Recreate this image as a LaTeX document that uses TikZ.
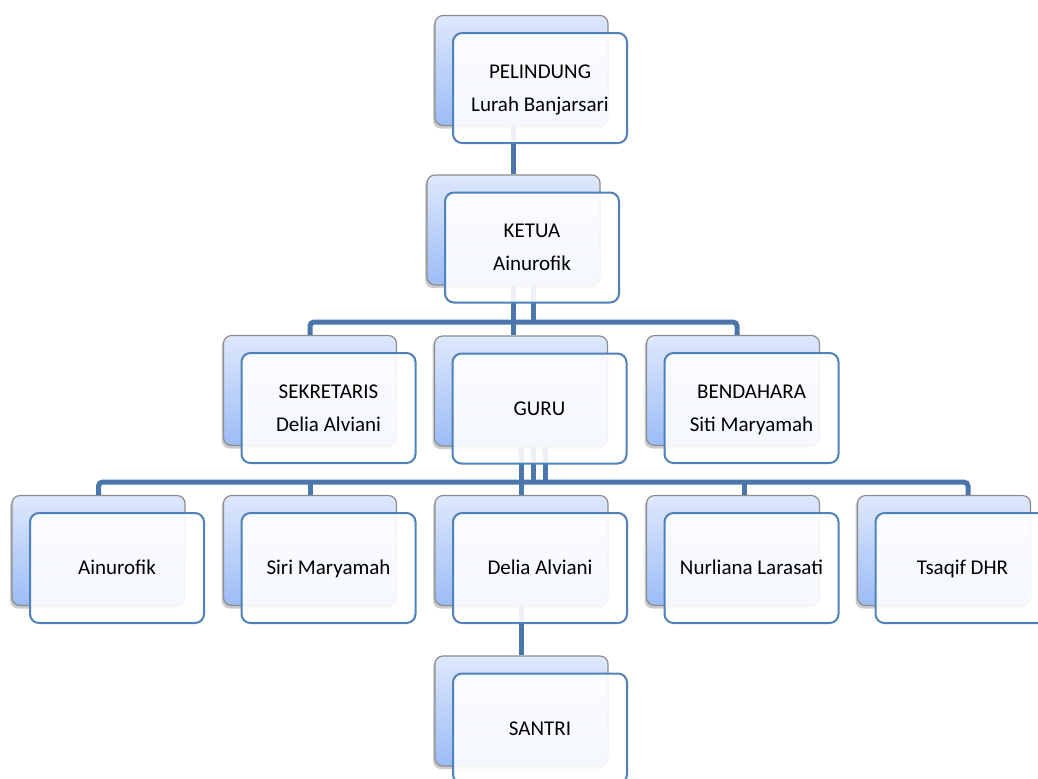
\documentclass[tikz,border=0pt]{standalone}
\usepackage{fontspec}
\setmainfont{Carlito}
\usetikzlibrary{shadows}
\definecolor{linkblue}{RGB}{74,118,172}
\definecolor{edgeblue}{RGB}{79,129,189}
\definecolor{backtop}{RGB}{222,232,252}
\definecolor{backbot}{RGB}{156,188,246}
\begin{document}
\begin{tikzpicture}[x=0.5pt,y=-0.5pt,
    backbox/.style={draw=gray!90,line width=0.6pt,rounded corners=4pt,
        minimum width=86.5pt,minimum height=55pt,top color=backtop,bottom color=backbot,
        drop shadow={shadow xshift=-1pt,shadow yshift=-1.5pt,opacity=0.4}},
    frontbox/.style={draw=edgeblue,line width=1pt,rounded corners=4.5pt,
        minimum width=87pt,minimum height=55pt,fill=white,fill opacity=0.9,text opacity=1,
        align=center,font=\fontsize{10.5}{16.5}\selectfont},
    conn/.style={draw=linkblue,line width=2.5pt}]
    \useasboundingbox(0,0)rectangle(1038,778);
    \clip(0,0)rectangle(1038,778);
    % back boxes
    \node[backbox](pelB)at(521.5,70.5){};
    \node[backbox](ketB)at(513.5,230){};
    \node[backbox](sekB)at(310,390.5){};
    \node[backbox](guruB)at(521,391){};
    \node[backbox](bendB)at(733,390.5){};
    \node[backbox](ainB)at(98.5,550.5){};
    \node[backbox](siriB)at(310,550.5){};
    \node[backbox](deliaB)at(521.5,550.5){};
    \node[backbox](nurlB)at(733,550.5){};
    \node[backbox](tsaqB)at(944,550.5){};
    \node[backbox](santriB)at(521.5,711){};
    % connectors
    \coordinate(busA)at(0,322);
    \coordinate(busB)at(0,482);
    \draw[conn](pelB.south -| ketB)--(ketB.north);
    \draw[conn](ketB.south)--(ketB.south |- guruB.north);
    \draw[conn]([xshift=10pt]ketB.south)--([xshift=10pt]ketB.south |- busA);
    \draw[conn,rounded corners=2pt](sekB.north)--(sekB.north |- busA)
        --([xshift=2pt]bendB.north |- busA)--([xshift=2pt]bendB.north);
    \draw[conn](guruB.south)--(guruB.south |- deliaB.north);
    \draw[conn]([xshift=6pt]guruB.south)--([xshift=6pt]guruB.south |- busB);
    \draw[conn]([xshift=12pt]guruB.south)--([xshift=12pt]guruB.south |- busB);
    \draw[conn,rounded corners=2pt](ainB.north)--(ainB.north |- busB)
        --([xshift=12pt]tsaqB.north |- busB)--([xshift=12pt]tsaqB.north);
    \draw[conn](siriB.north)--(siriB.north |- busB);
    \draw[conn]([xshift=5.5pt]nurlB.north)--([xshift=5.5pt]nurlB.north |- busB);
    \draw[conn](deliaB.south)--(santriB.north);
    % front boxes
    \node[frontbox](pel)at(540,88){\strut PELINDUNG\\Lurah Banjarsari\strut};
    \node[frontbox](ket)at(532,247.5){\strut KETUA\\Ainurofik\strut};
    \node[frontbox](sek)at(328.5,408){\strut SEKRETARIS\\Delia Alviani\strut};
    \node[frontbox](guru)at(539.5,408.5){\strut GURU\strut};
    \node[frontbox](bend)at(751.5,408){\strut BENDAHARA\\Siti Maryamah\strut};
    \node[frontbox](ain)at(117,568){\strut Ainurofik\strut};
    \node[frontbox](siri)at(328.5,568){\strut Siri Maryamah\strut};
    \node[frontbox](delia)at(540,568){\strut Delia Alviani\strut};
    \node[frontbox](nurl)at(751.5,568){\strut Nurliana Larasati\strut};
    \node[frontbox](tsaq)at(962.5,568){\strut Tsaqif DHR\strut};
    \node[frontbox](santri)at(540,728.5){\strut SANTRI\strut};
\end{tikzpicture}
\end{document}
